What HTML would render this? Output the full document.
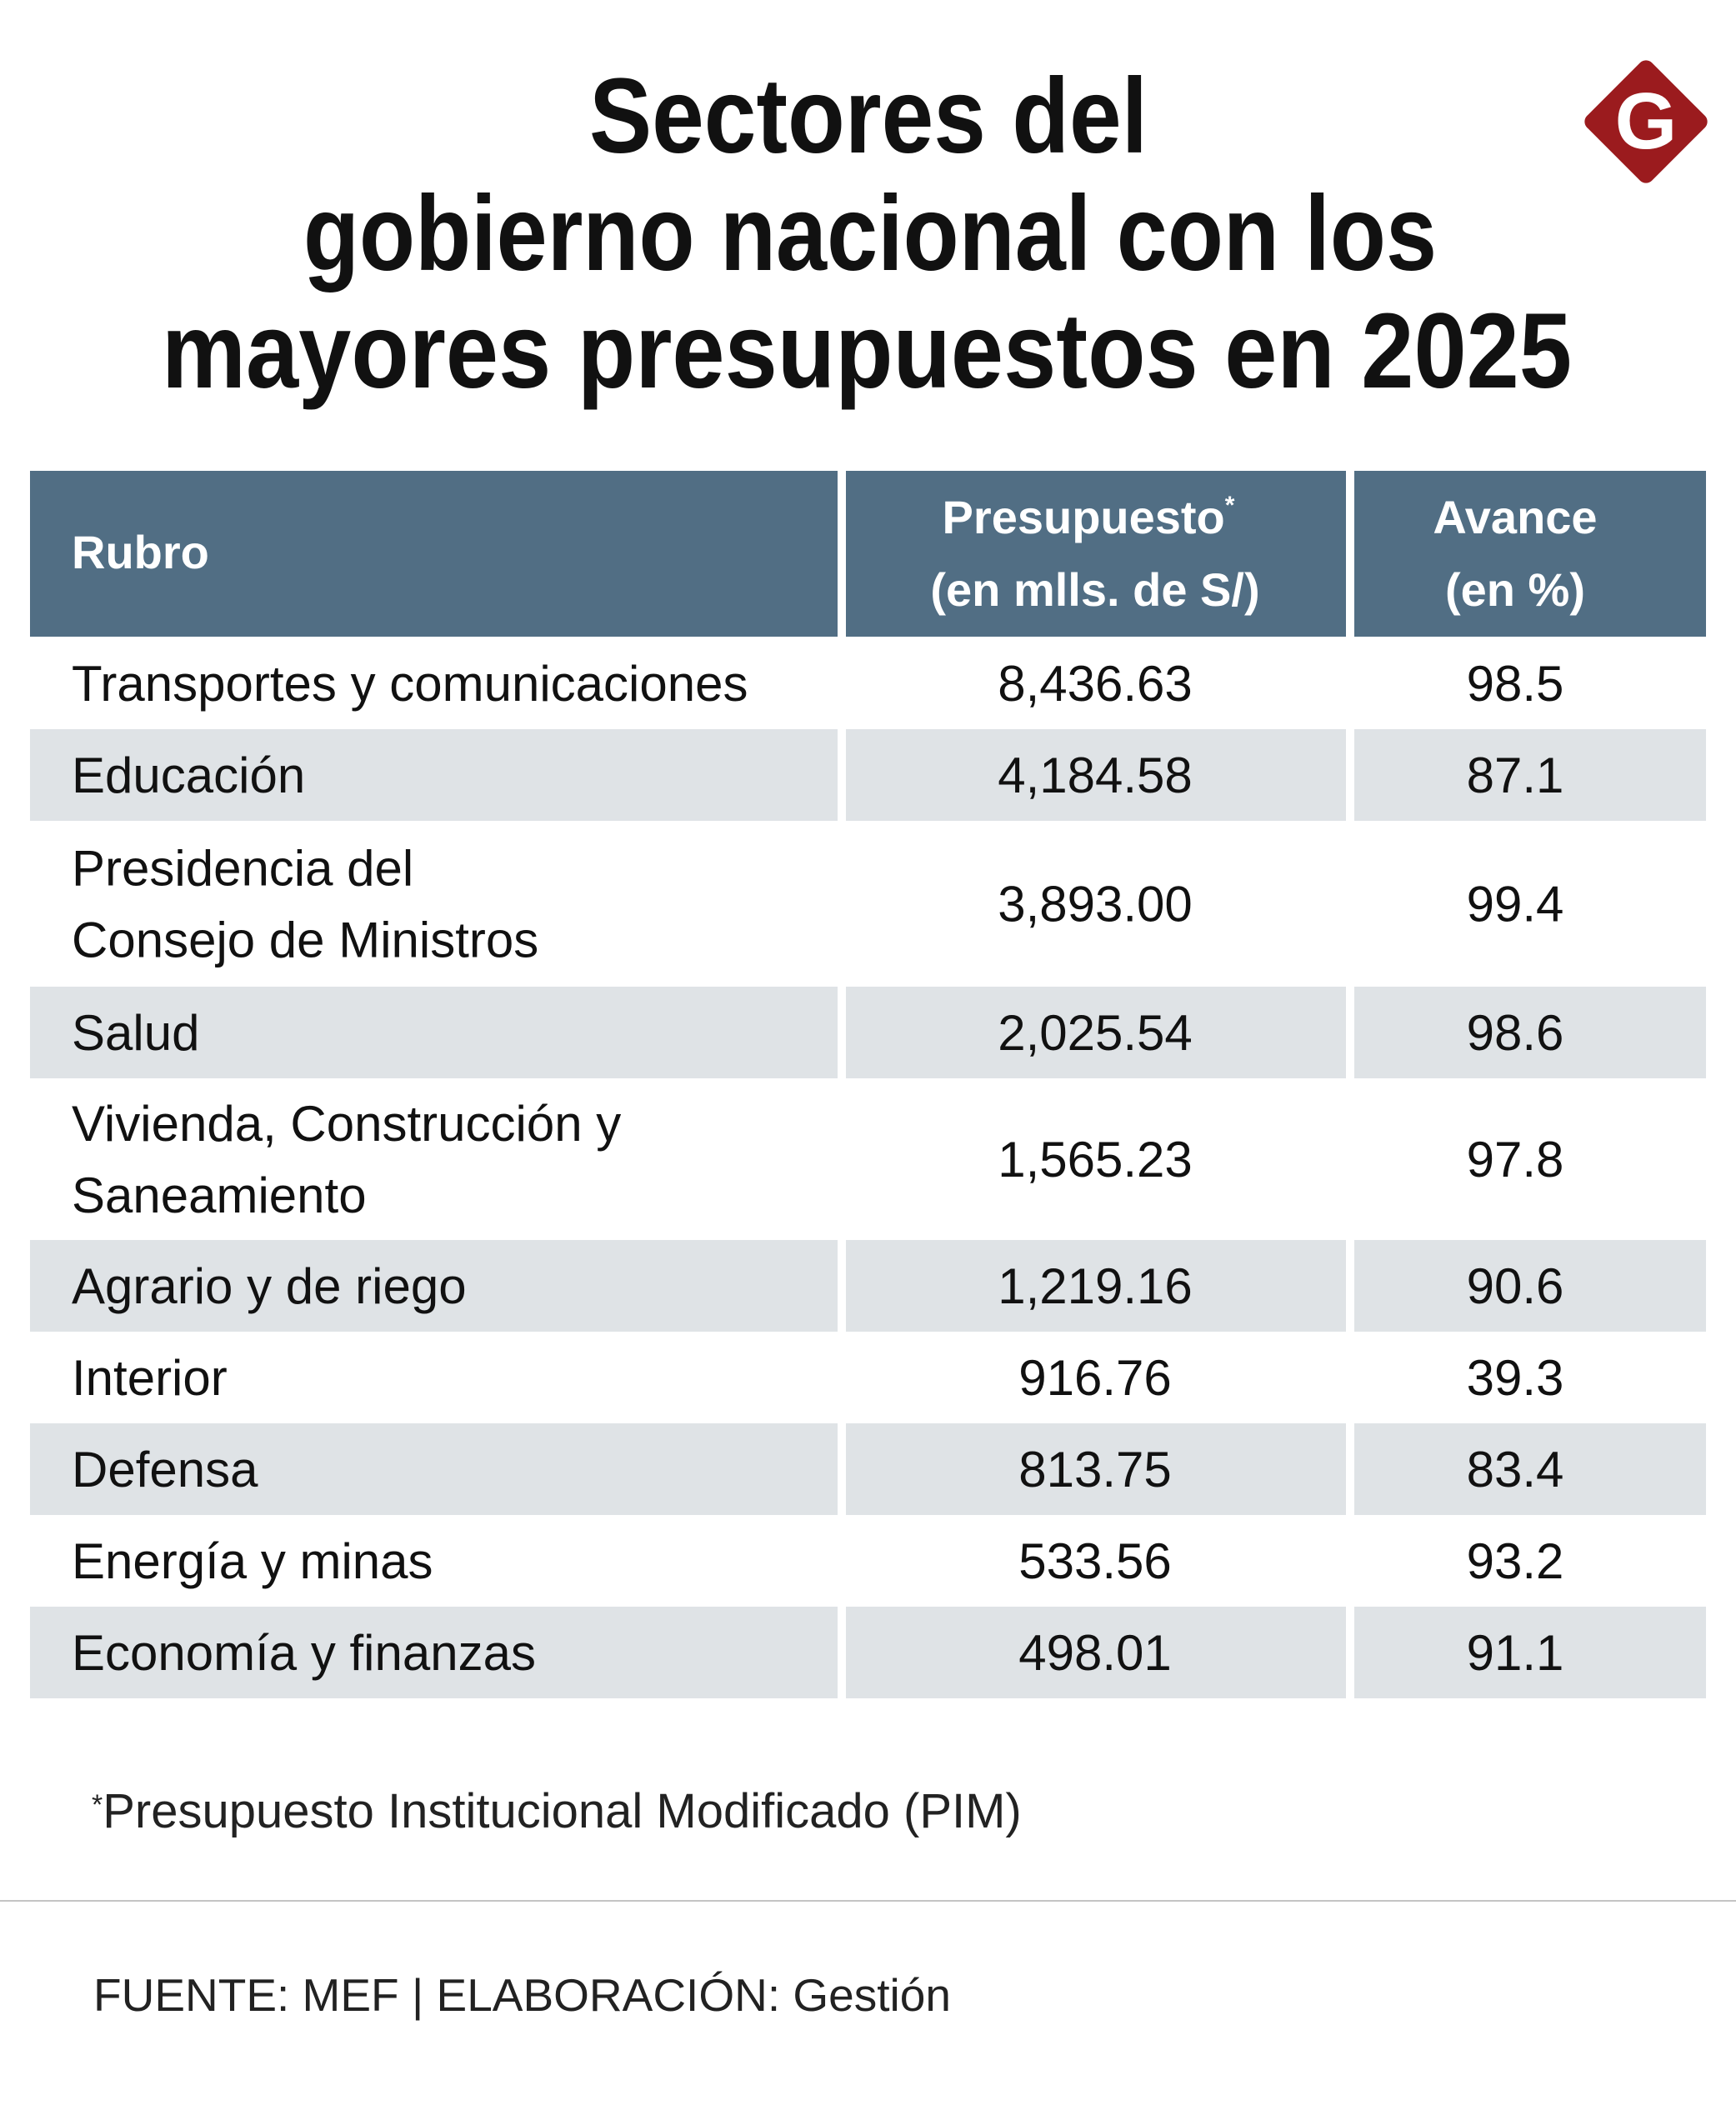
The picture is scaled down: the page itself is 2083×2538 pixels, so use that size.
<!DOCTYPE html>
<html><head><meta charset="utf-8"><style>
html,body{margin:0;padding:0;background:#fff}
svg{display:block}
text{font-family:"Liberation Sans",sans-serif}
</style></head><body>
<svg width="2083" height="2538" viewBox="0 0 2083 2538">
<g font-weight="bold" font-size="128" fill="#111" text-anchor="middle">
<text x="1042" y="183" textLength="670" lengthAdjust="spacingAndGlyphs">Sectores del</text>
<text x="1044" y="324" textLength="1360" lengthAdjust="spacingAndGlyphs">gobierno nacional con los</text>
<text x="1040" y="465" textLength="1692" lengthAdjust="spacingAndGlyphs">mayores presupuestos en 2025</text>
</g>
<g>
<rect x="1920" y="91" width="110" height="110" rx="10" fill="#9b1b1e" transform="rotate(45 1975 146)"/>
<text x="1975" y="178" text-anchor="middle" font-family="Liberation Serif,serif" font-weight="bold" font-size="96" fill="#fff">G</text>
</g>
<g id="table"></g>
<text x="110" y="2193" font-size="58" fill="#222"><tspan font-size="34" dy="-16">*</tspan><tspan dy="16">Presupuesto Institucional Modificado (PIM)</tspan></text>
<rect x="0" y="2280" width="2083" height="2" fill="#c4c4c4"/>
<text x="112" y="2413" font-size="55" fill="#222">FUENTE: MEF | ELABORACIÓN: Gestión</text>
</svg>
<script>
const rubros=[["Transportes y comunicaciones"],["Educación"],["Presidencia del","Consejo de Ministros"],["Salud"],["Vivienda, Construcción y","Saneamiento"],["Agrario y de riego"],["Interior"],["Defensa"],["Energía y minas"],["Economía y finanzas"]];
const presupuesto=["8,436.63","4,184.58","3,893.00","2,025.54","1,565.23","1,219.16","916.76","813.75","533.56","498.01"];
const avance=["98.5","87.1","99.4","98.6","97.8","90.6","39.3","83.4","93.2","91.1"];
const NS="http://www.w3.org/2000/svg";
const g=document.getElementById('table');
const cols=[[36,1005],[1015,1615],[1625,2047]];
const C2=1314, C3=1818;
function el(t,a,txt){const e=document.createElementNS(NS,t);for(const k in a)e.setAttribute(k,a[k]);if(txt!=null)e.textContent=txt;g.appendChild(e);return e;}
cols.forEach(c=>{const r=el('rect',{x:c[0],y:565,width:c[1]-c[0],height:199,fill:'#516e84'});

});
let t=el('text',{x:86,y:682,'font-size':56,'font-weight':'bold',fill:'#fff'},'Rubro');


t=el('text',{x:C2-8,y:640,'font-size':56,'font-weight':'bold',fill:'#fff','text-anchor':'middle'});
t.innerHTML='Presupuesto<tspan font-size="30" dy="-24">*</tspan>';


t=el('text',{x:C2,y:727,'font-size':56,'font-weight':'bold',fill:'#fff','text-anchor':'middle'},'(en mlls. de S/)');


t=el('text',{x:C3,y:640,'font-size':56,'font-weight':'bold',fill:'#fff','text-anchor':'middle'},'Avance');


el('text',{x:C3,y:727,'font-size':56,'font-weight':'bold',fill:'#fff','text-anchor':'middle'},'(en %)');
let y=765;
rubros.forEach((r,i)=>{
 const h=r.length>1?(i===2?199:194):110;
 if(i%2===1){cols.forEach(c=>{const b=el('rect',{x:c[0],y:y,width:c[1]-c[0],height:h,fill:'#dfe3e6'});
 
 });}
 const cy=y+h/2;
 if(r.length===1){const a=el('text',{x:86,y:cy+21,'font-size':60,fill:'#111'},r[0]);
  
  }
 else{r.forEach((s,j)=>{const a=el('text',{x:86,y:cy-22+j*86,'font-size':60,fill:'#111'},s);
  
  });}
 const p=el('text',{x:C2,y:cy+21,'font-size':60,fill:'#111','text-anchor':'middle'},presupuesto[i]);
 
 
 const v=el('text',{x:C3,y:cy+21,'font-size':60,fill:'#111','text-anchor':'middle'},avance[i]);
 
 
 y+=h;
});
</script>
</body></html>
